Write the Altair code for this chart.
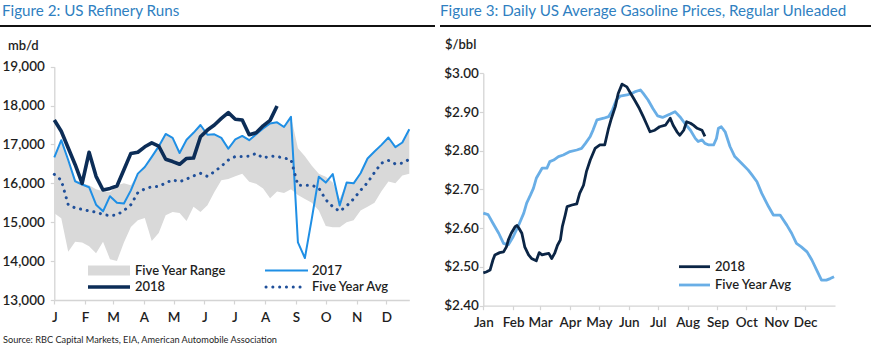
import json
import altair as alt
import pandas as pd

# ---------------- data: Figure 2 (weekly refinery runs, mb/d) ----------------
weeks = list(range(1, 53))
runs_2018 = [17630, 17340, 16910, 16480, 16000, 16800, 16180, 15830, 15870, 15930,
             16350, 16770, 16800, 16940, 17040, 16960, 16620, 16560, 16490, 16640,
             16650, 17200, 17370, 17500, 17670, 17820, 17650, 17630, 17250, 17300,
             17480, 17620, 17990]
runs_2017 = [16670, 17110, 16600, 16050, 15970, 15900, 15450, 15280, 15670, 15500,
             15480, 15820, 16250, 16420, 16680, 16950, 17270, 17170, 16780, 17120,
             17300, 17500, 17250, 17260, 17170, 16890, 17130, 17220, 17110, 17260,
             17410, 17540, 17570, 17450, 17710, 14480, 14080, 15100, 16170, 16020,
             16240, 15430, 16020, 16000, 16260, 16640, 16820, 16990, 17180, 16930,
             17050, 17390]
five_yr_avg = [16230, 16080, 15450, 15370, 15330, 15290, 15260, 15200, 15170, 15190,
               15300, 15450, 15760, 15860, 15910, 15920, 16010, 16090, 16040, 16110,
               16190, 16260, 16180, 16300, 16440, 16600, 16690, 16690, 16700, 16770,
               16650, 16700, 16690, 16650, 16610, 15950, 15950, 15950, 15880, 15580,
               15400, 15280, 15420, 15600, 15820, 16020, 16280, 16520, 16590, 16500,
               16520, 16620]
five_yr_low = [15230, 15100, 14240, 14500, 14480, 14380, 14200, 14500, 14050, 14000,
               14480, 14880, 15050, 15110, 14520, 14720, 15180, 15260, 15240, 15030,
               15400, 15260, 15440, 15780, 16080, 16110, 16180, 16250, 16040, 15990,
               15870, 15620, 15790, 15750, 15850, 15700, 15600, 15500, 15300, 14900,
               14870, 14870, 15000, 15050, 15300, 15400, 15500, 15800, 16050, 16000,
               16200, 16250]
five_yr_high = [16700, 17110, 16600, 16100, 16000, 15950, 15850, 15800, 15780, 15950,
                16000, 15950, 16250, 16420, 16680, 16950, 17270, 17170, 16780, 17120,
                17300, 17500, 17250, 17260, 17170, 16950, 17130, 17220, 17110, 17260,
                17410, 17540, 17570, 17450, 17710, 16900, 16700, 16450, 16250, 16170,
                16020, 15600, 16020, 16000, 16260, 16640, 16820, 16990, 17180, 16930,
                17050, 17390]

# ---------------- data: Figure 3 (daily gasoline, $) ----------------
gas_2018_day = [0, 3, 7, 10, 12, 17, 21, 24, 26, 29, 33, 35, 37, 40, 43, 47, 50, 55, 58, 61,
                64, 68, 71, 74, 77, 80, 82, 85, 87, 92, 97, 100, 104, 107, 111, 116, 121, 126,
                130, 133, 137, 140, 144, 149, 153, 157, 162, 166, 170, 173, 178, 183, 189, 194,
                197, 201, 204, 208, 211, 215, 218, 222, 227, 230]
gas_2018 = [2.485, 2.487, 2.492, 2.518, 2.531, 2.537, 2.539, 2.552, 2.570, 2.587, 2.604, 2.607,
            2.600, 2.587, 2.552, 2.531, 2.522, 2.516, 2.537, 2.531, 2.533, 2.535, 2.522, 2.535,
            2.556, 2.570, 2.604, 2.634, 2.656, 2.660, 2.663, 2.690, 2.711, 2.746, 2.776, 2.806,
            2.815, 2.815, 2.858, 2.884, 2.914, 2.948, 2.972, 2.965, 2.948, 2.931, 2.909, 2.888,
            2.866, 2.849, 2.853, 2.862, 2.866, 2.884, 2.866, 2.849, 2.840, 2.853, 2.875, 2.871,
            2.866, 2.858, 2.853, 2.837]
gas_avg_day = [0, 5, 10, 16, 21, 26, 31, 36, 42, 45, 49, 52, 55, 61, 66, 69, 73, 78, 83, 90,
               97, 102, 106, 111, 114, 118, 125, 130, 134, 138, 142, 149, 154, 157, 163, 166,
               171, 176, 181, 186, 194, 199, 204, 209, 215, 220, 223, 227, 230, 234, 239, 242,
               244, 247, 251, 256, 261, 268, 275, 279, 284, 289, 296, 301, 308, 315, 320, 325,
               330, 336, 341, 346, 351, 356, 360, 364]
gas_avg = [2.639, 2.635, 2.613, 2.587, 2.561, 2.557, 2.578, 2.604, 2.639, 2.665, 2.686, 2.703,
           2.729, 2.755, 2.755, 2.772, 2.776, 2.785, 2.789, 2.798, 2.802, 2.806, 2.819, 2.837,
           2.854, 2.880, 2.884, 2.888, 2.905, 2.931, 2.941, 2.944, 2.948, 2.952, 2.957, 2.948,
           2.931, 2.909, 2.890, 2.886, 2.895, 2.901, 2.888, 2.871, 2.853, 2.832, 2.824, 2.828,
           2.819, 2.815, 2.815, 2.832, 2.858, 2.862, 2.849, 2.811, 2.785, 2.768, 2.750, 2.737,
           2.720, 2.690, 2.656, 2.634, 2.634, 2.608, 2.587, 2.561, 2.552, 2.539, 2.518, 2.492,
           2.466, 2.466, 2.470, 2.475]

# ---------------- ticks / labels ----------------
month_start_days = [0, 31, 59, 90, 120, 151, 181, 212, 243, 273, 304, 334]
month_letters = ["J", "F", "M", "A", "M", "J", "J", "A", "S", "O", "N", "D"]
month_names = ["Jan", "Feb", "Mar", "Apr", "May", "Jun", "Jul", "Aug", "Sep", "Oct", "Nov", "Dec"]
left_y_ticks = [13000, 14000, 15000, 16000, 17000, 18000, 19000]
right_y_ticks = [2.40, 2.50, 2.60, 2.70, 2.80, 2.90, 3.00]

# ---------------- layout / style ----------------
W, H = 871, 352
FONT = "Lato"
TXT = "#1e1e1e"
L_X0, L_X1, L_Y0, L_Y1 = 54.3, 409.3, 300.0, 66.7
R_X0, R_X1, R_Y0, R_Y1 = 483.3, 835.0, 305.7, 73.3
C_RANGE, C_2017, C_2018, C_AVG = "#d9d9d9", "#1f8fe5", "#0c2d57", "#20509a"
C_G2018, C_GAVG = "#0b2545", "#69aee6"

axis_common = dict(grid=False, title=None, domainColor="#d4d4d4", domainWidth=1.3,
                   tickColor="#d4d4d4", tickWidth=1.2, tickSize=4, labelFont=FONT,
                   labelFontSize=13.5, labelFontWeight=600, labelColor=TXT,
                   labelOverlap=False, labelFlush=False)

df_runs = pd.DataFrame({"week": weeks, "y2017": runs_2017, "avg": five_yr_avg,
                        "lo": five_yr_low, "hi": five_yr_high})
df_2018 = pd.DataFrame({"week": weeks[:len(runs_2018)], "y2018": runs_2018})

lx = alt.X("day:Q",
           scale=alt.Scale(domain=[0, 357], range=[L_X0, L_X1], nice=False, zero=False),
           axis=alt.Axis(orient="bottom", offset=L_Y0 - H, values=month_start_days,
                         labelExpr=f"{json.dumps(month_letters)}[indexof({json.dumps(month_start_days)}, datum.value)]",
                         labelPadding=6, **axis_common))


def ly(field):
    return alt.Y(f"{field}:Q",
                 scale=alt.Scale(domain=[13000, 19000], range=[L_Y0, L_Y1], nice=False, zero=False),
                 axis=alt.Axis(orient="left", offset=-L_X0, values=left_y_ticks, format=",d",
                               labelPadding=6, **axis_common))


base_runs = alt.Chart(df_runs).transform_calculate(day="(datum.week - 1) * 7")
area = base_runs.mark_area(color=C_RANGE, opacity=1).encode(x=lx, y=ly("lo"), y2="hi:Q")
l2017 = base_runs.mark_line(color=C_2017, strokeWidth=2, strokeJoin="round").encode(x=lx, y=ly("y2017"))
lavg = base_runs.mark_line(color=C_AVG, strokeWidth=3, strokeDash=[0.1, 6.7], strokeCap="round").encode(
    x=lx, y=ly("avg"))
l2018 = alt.Chart(df_2018).transform_calculate(day="(datum.week - 1) * 7").mark_line(
    color=C_2018, strokeWidth=3.6, strokeJoin="round").encode(x=lx, y=ly("y2018"))
left = alt.layer(area, l2017, lavg, l2018)

df_g18 = pd.DataFrame({"day": gas_2018_day, "price": gas_2018})
df_gavg = pd.DataFrame({"day": gas_avg_day, "price": gas_avg})
rx = alt.X("day:Q",
           scale=alt.Scale(domain=[0, 365], range=[R_X0, R_X1], nice=False, zero=False),
           axis=alt.Axis(orient="bottom", offset=R_Y0 - H, values=month_start_days,
                         labelExpr=f"{json.dumps(month_names)}[indexof({json.dumps(month_start_days)}, datum.value)]",
                         labelPadding=6, **axis_common))
ry = alt.Y("price:Q",
           scale=alt.Scale(domain=[2.4, 3.0], range=[R_Y0, R_Y1], nice=False, zero=False),
           axis=alt.Axis(orient="left", offset=-R_X0, values=right_y_ticks,
                         labelExpr="'$' + format(datum.value, '.2f')",
                         labelPadding=1, **axis_common))
g_avg = alt.Chart(df_gavg).mark_line(color=C_GAVG, strokeWidth=2.8, strokeJoin="round").encode(x=rx, y=ry)
g_18 = alt.Chart(df_g18).mark_line(color=C_G2018, strokeWidth=2.8, strokeJoin="round").encode(x=rx, y=ry)
right = alt.layer(g_avg, g_18)


# ---------------- texts, rules, legends ----------------
def text(t, x, y, size=13, color=TXT, baseline="middle", align="left", weight="normal"):
    return alt.Chart(pd.DataFrame({"t": [t]})).mark_text(
        align=align, baseline=baseline, font=FONT, fontSize=size, color=color, fontWeight=weight
    ).encode(x=alt.value(x), y=alt.value(y), text="t:N")


def hrule(x1, x2, y, color, width, dash=None, cap="butt"):
    kw = dict(color=color, strokeWidth=width, strokeCap=cap)
    if dash:
        kw["strokeDash"] = dash
    return alt.Chart(pd.DataFrame({"a": [0]})).mark_rule(**kw).encode(
        x=alt.value(x1), x2=alt.value(x2), y=alt.value(y))


swatch = alt.Chart(pd.DataFrame({"a": [0]})).mark_rect(color=C_RANGE).encode(
    x=alt.value(88), x2=alt.value(130), y=alt.value(265.5), y2=alt.value(275.5))

extras = [
    text("Figure 2: US Refinery Runs", 2, 15.5, size=15.2, color="#2f7fc1", baseline="alphabetic"),
    text("Figure 3: Daily US Average Gasoline Prices, Regular Unleaded", 440, 15.5, size=15.2,
         color="#2f7fc1", baseline="alphabetic"),
    hrule(0, 435, 26, "#111111", 2),
    hrule(440, 871, 26, "#111111", 2),
    text("mb/d", 8, 46, size=13, weight=600),
    text("$/bbl", 445, 45, size=13, weight=600),
    text("Source: RBC Capital Markets, EIA, American Automobile Association", 3, 340, size=9.2),
    swatch,
    text("Five Year Range", 135, 270.5, size=13, weight=600),
    hrule(265, 308, 270.5, C_2017, 2),
    text("2017", 312, 270.5, size=13, weight=600),
    hrule(88, 130, 287, C_2018, 3.6),
    text("2018", 135, 287, size=13, weight=600),
    hrule(266, 306, 287, C_AVG, 3, dash=[0.1, 6.7], cap="round"),
    text("Five Year Avg", 312, 287, size=13, weight=600),
    hrule(679, 710, 266.7, C_G2018, 2.8),
    text("2018", 715, 266.7, size=13, weight=600),
    hrule(679, 710, 285, C_GAVG, 2.8),
    text("Five Year Avg", 715, 285, size=13, weight=600),
]

chart = alt.layer(left, right, *extras).resolve_scale(
    x="independent", y="independent"
).properties(
    width=W, height=H, padding=0, autosize=alt.AutoSizeParams(type="none"), background="white"
).configure_view(stroke=None)

chart.save("out.html", embed_options={"renderer": "svg", "actions": False})
